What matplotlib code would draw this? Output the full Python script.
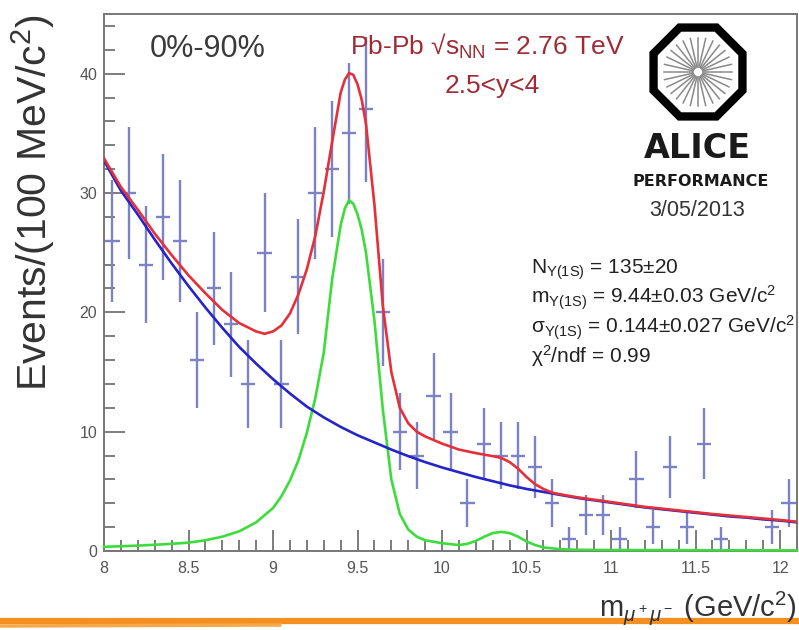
import numpy as np
import matplotlib
matplotlib.use("Agg")
import matplotlib.pyplot as plt
from matplotlib.ticker import MultipleLocator, FuncFormatter
from matplotlib.patches import RegularPolygon
from matplotlib.lines import Line2D

plt.rcParams['font.family'] = ['Liberation Sans', 'DejaVu Sans']
plt.rcParams['mathtext.fontset'] = 'custom'
plt.rcParams['mathtext.rm'] = 'Liberation Sans'
plt.rcParams['mathtext.it'] = 'Liberation Sans:italic'
plt.rcParams['mathtext.bf'] = 'Liberation Sans:bold'

# dimuon mass histogram, 100 MeV bins
bin_centers = [8.05, 8.15, 8.25, 8.35, 8.45, 8.55, 8.65, 8.75, 8.85, 8.95,
               9.05, 9.15, 9.25, 9.35, 9.45, 9.55, 9.65, 9.75, 9.85, 9.95,
               10.05, 10.15, 10.25, 10.35, 10.45, 10.55, 10.65, 10.75, 10.85, 10.95,
               11.05, 11.15, 11.25, 11.35, 11.45, 11.55, 11.65, 11.75, 11.85, 11.95,
               12.05]
counts = [26, 30, 24, 28, 26, 16, 22, 19, 14, 25,
          14, 23, 30, 32, 35, 37, 20, 10, 8, 13,
          10, 4, 9, 8, 8, 7, 4, 1, 3, 3,
          1, 6, 2, 7, 2, 9, 1, 0, 0, 2,
          4]
count_err = [5.1, 5.5, 4.9, 5.3, 5.1, 4.0, 4.7, 4.4, 3.7, 5.0,
             3.7, 4.8, 5.5, 5.7, 5.9, 6.1, 4.5, 3.2, 2.8, 3.6,
             3.2, 2.0, 3.0, 2.8, 2.8, 2.6, 2.0, 1.0, 1.7, 1.7,
             1.0, 2.4, 1.4, 2.6, 1.4, 3.0, 1.0, 0.0, 0.0, 1.4,
             2.0]

# fit curves
bkg_x = [8.0, 8.1, 8.2, 8.3, 8.4, 8.5, 8.6, 8.7, 8.8, 8.9, 9.0, 9.1, 9.2, 9.3,
         9.4, 9.5, 9.6, 9.7, 9.8, 9.9, 10.0, 10.1, 10.2, 10.3, 10.4, 10.5, 10.6,
         10.7, 10.8, 10.9, 11.0, 11.1, 11.2, 11.3, 11.4, 11.5, 11.6, 11.7, 11.8,
         11.9, 12.0, 12.1]
bkg_y = [32.7, 30.2, 28.2, 26.1, 24.1, 22.2, 20.4, 18.7, 17.1, 15.7, 14.4, 13.2,
         12.1, 11.2, 10.4, 9.7, 9.1, 8.5, 7.95, 7.45, 7.0, 6.6, 6.2, 5.85, 5.5,
         5.2, 4.95, 4.7, 4.45, 4.25, 4.05, 3.85, 3.65, 3.5, 3.35, 3.2, 3.05, 2.9,
         2.8, 2.65, 2.55, 2.4]

total_x = [8.0, 8.1, 8.2, 8.3, 8.4, 8.5, 8.6, 8.7, 8.8, 8.9, 8.95, 9.0, 9.05,
           9.1, 9.15, 9.2, 9.25, 9.3, 9.35, 9.4, 9.425, 9.45, 9.475, 9.5, 9.525,
           9.55, 9.6, 9.65, 9.7, 9.75, 9.8, 9.85, 9.9, 10.0, 10.1, 10.2, 10.3,
           10.35, 10.4, 10.45, 10.5, 10.55, 10.6, 10.65, 10.7, 10.8, 10.9, 11.0,
           11.2, 11.4, 11.6, 11.8, 12.0, 12.1]
total_y = [32.9, 30.5, 28.6, 26.6, 24.8, 23.1, 21.6, 20.2, 19.1, 18.4, 18.2,
           18.4, 18.9, 19.9, 21.5, 23.6, 26.4, 30.1, 34.3, 38.4, 39.5, 40.05,
           39.9, 39.1, 37.8, 35.8, 29.0, 20.5, 15.0, 12.0, 10.7, 10.0, 9.6, 9.0,
           8.5, 8.2, 7.95, 7.8, 7.45, 6.9, 6.2, 5.6, 5.2, 4.9, 4.75, 4.5, 4.3,
           4.1, 3.7, 3.4, 3.1, 2.85, 2.6, 2.45]

sig_x = [8.0, 8.2, 8.4, 8.5, 8.6, 8.7, 8.8, 8.9, 9.0, 9.05, 9.1, 9.15, 9.2,
         9.25, 9.3, 9.35, 9.4, 9.425, 9.45, 9.475, 9.5, 9.525, 9.55, 9.6, 9.65,
         9.7, 9.75, 9.8, 9.85, 9.9, 10.0, 10.1, 10.15, 10.2, 10.25, 10.3, 10.35,
         10.4, 10.45, 10.5, 10.55, 10.6, 10.7, 10.8, 11.0, 12.1]
sig_y = [0.35, 0.45, 0.6, 0.7, 0.9, 1.2, 1.65, 2.4, 3.6, 4.6, 5.9, 7.6, 9.9,
         12.8, 16.6, 22.8, 27.3, 28.7, 29.4, 29.1, 28.2, 26.9, 25.0, 19.3, 11.8,
         6.0, 3.1, 1.8, 1.2, 0.9, 0.65, 0.5, 0.6, 0.85, 1.2, 1.5, 1.6, 1.5, 1.2,
         0.8, 0.5, 0.3, 0.15, 0.1, 0.08, 0.05]

fit_lines = ["N$_{\\rm Υ(1S)}$ = 135±20",
             "m$_{\\rm Υ(1S)}$ = 9.44±0.03 GeV/c$^2$",
             "σ$_{\\rm Υ(1S)}$ = 0.144±0.027 GeV/c$^2$",
             "χ$^2$/ndf = 0.99"]

W, H = 799, 630
fig = plt.figure(figsize=(W / 100, H / 100), dpi=100)
ax = fig.add_axes([104 / W, 1 - 551 / H, (797 - 104) / W, (551 - 14) / H])

# data points (skip empty bins)
x = np.array(bin_centers)
y = np.array(counts, dtype=float)
e = np.array(count_err)
keep = y > 0
ax.errorbar(x[keep], y[keep], yerr=e[keep], xerr=0.042, fmt='none',
            ecolor='#7c82c6', elinewidth=1.7, capsize=0, zorder=2)

ax.plot(sig_x, sig_y, color='#3ddc3d', lw=1.9, zorder=3, clip_on=False)
ax.plot(bkg_x, bkg_y, color='#2424c8', lw=1.9, zorder=4)
ax.plot(total_x, total_y, color='#e5303a', lw=1.9, zorder=5)

ax.set_xlim(8, 12.1)
ax.set_ylim(0, 45)
ax.xaxis.set_major_locator(MultipleLocator(0.5))
ax.xaxis.set_minor_locator(MultipleLocator(0.1))
ax.yaxis.set_major_locator(MultipleLocator(10))
ax.yaxis.set_minor_locator(MultipleLocator(2))
ax.xaxis.set_major_formatter(FuncFormatter(lambda v, p: f'{v:g}'))
ax.tick_params(which='both', direction='in', color='#666666', width=1.2,
               labelsize=11.5, labelcolor='#555555', top=False, right=False)
ax.tick_params(which='major', length=15)
ax.tick_params(which='minor', length=8)
ax.tick_params(axis='x', pad=7)
ax.tick_params(axis='y', pad=5)
for sp in ax.spines.values():
    sp.set_color('#777777')
    sp.set_linewidth(1.4)

# axis titles
fig.text(33 / W, 1 - 14 / H, "Events/(100 MeV/c$^2$)", rotation=90,
         ha='center', va='top', fontsize=29.5, color='#333333')
fig.text(797 / W, 1 - 616 / H, "m$_{\\mu^+\\mu^-}$ (GeV/c$^2$)", ha='right',
         va='baseline', fontsize=21, color='#333333')

# labels inside the frame
fig.text(150 / W, 1 - 57 / H, "0%-90%", fontsize=22, color='#3a3a3a',
         va='baseline')
fig.text(350 / W, 1 - 55 / H, "Pb-Pb √s$_{\\rm NN}$ = 2.76 TeV", fontsize=19,
         color='#9e2c36', va='baseline')
fig.text(445 / W, 1 - 93 / H, "2.5<y<4", fontsize=19, color='#9e2c36',
         va='baseline')
for i, line in enumerate(fit_lines):
    fig.text(531 / W, 1 - (274 + i * 29.5) / H, line, fontsize=15,
             color='#222222', va='baseline')

# ALICE logo
lax = fig.add_axes([644 / W, 1 - 126 / H, 108 / W, 108 / H])
lax.set_xlim(-1.1, 1.1)
lax.set_ylim(-1.1, 1.1)
lax.set_aspect('equal')
lax.axis('off')
lax.add_patch(RegularPolygon((0, 0), 8, radius=0.98, orientation=np.pi / 8,
                             fill=False, ec='black', lw=6))
for a in np.linspace(0, 2 * np.pi, 28, endpoint=False):
    lax.plot([0.1 * np.cos(a), 0.7 * np.cos(a)], [0.1 * np.sin(a), 0.7 * np.sin(a)],
             color='#8a8a8a', lw=1.1)
fig.text(697 / W, 1 - 148 / H, "ALICE", fontsize=24, fontweight='bold',
         family='DejaVu Sans', color='#1a1a1a', ha='center', va='center')
fig.text(701 / W, 1 - 181 / H, "PERFORMANCE", fontsize=11.5, fontweight='bold',
         family='DejaVu Sans', color='#1a1a1a', ha='center', va='center')
fig.text(697 / W, 1 - 211 / H, "3/05/2013", fontsize=15.5, color='#333333',
         ha='center', va='center')

# orange stroke along the bottom edge of the slide
fig.add_artist(Line2D([0, 1], [1 - 621 / H, 1 - 621 / H], transform=fig.transFigure,
                      color='#f39020', lw=4.5))
fig.add_artist(Line2D([0, 0.35], [1 - 626 / H, 1 - 625 / H], transform=fig.transFigure,
                      color='#f7a94a', lw=2.5))

fig.savefig("out.png", dpi=100)
